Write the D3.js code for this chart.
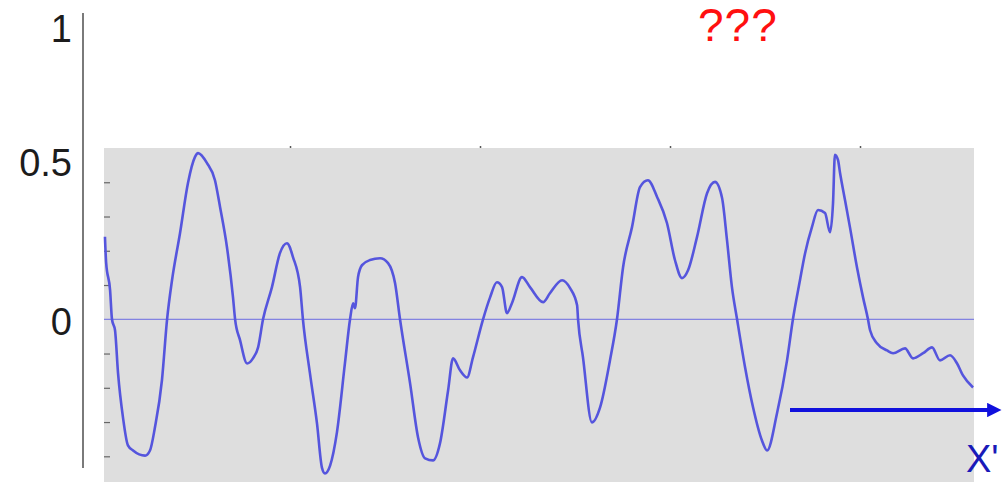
<!DOCTYPE html>
<html>
<head>
<meta charset="utf-8">
<script src="https://cdn.jsdelivr.net/npm/d3@7"></script>
<style>
  body { margin: 0; background: #fff; }
  svg { display: block; font-family: "Liberation Sans", Arial, sans-serif; }
</style>
</head>
<body>
<svg id="chart" width="1005" height="482"></svg>
<script>
// signal samples (time position, amplitude)
const sampleX = [2.6, 3.2, 5.3, 6.3, 7.9, 9.5, 12.1, 14.7, 17.4, 23.7, 26.3, 28.9, 32.6, 35.3, 37.9, 42.1, 46.3, 50.0, 51.6, 56.3,
  60.5, 63.2, 66.8, 70.0, 71.1, 73.7, 77.4, 80.5, 83.2, 85.8, 90.5, 94.7, 98.4, 101.6, 105.3, 106.8, 110.5, 114.2, 116.8, 118.4,
  121.1, 124.7, 128.9, 131.6, 133.2, 134.2, 135.8, 137.9, 142.1, 147.4, 151.6, 155.3, 157.9, 163.2, 167.4, 171.1, 175.3, 178.9, 183.2, 185.8,
  189.5, 193.2, 196.3, 201.6, 205.3, 208.9, 211.6, 214.2, 216.8, 222.1, 226.3, 233.2, 236.8, 243.2, 247.4, 251.1, 251.6, 254.2, 258.9, 263.2,
  268.4, 272.1, 275.3, 280.0, 284.2, 288.4, 293.2, 298.4, 302.6, 306.3, 309.5, 314.2, 319.5, 323.7, 327.4, 330.0, 332.6, 335.3, 339.5, 343.7,
  348.4, 351.1, 356.3, 361.6, 364.7, 368.4, 371.1, 374.7, 377.9, 381.6, 384.2, 385.8, 386.8, 388.4, 389.5, 392.1, 394.7, 398.4, 401.6, 404.2,
  405.3, 408.9, 414.2, 417.4, 423.7, 427.9, 433.2, 437.9, 442.1, 447.4, 451.1, 454.2, 459.5];
const sampleY = [0.241, 0.167, 0.085, 0.0, -0.032, -0.158, -0.287, -0.368, -0.383, -0.398, -0.383, -0.316, -0.178, 0.0, 0.114, 0.251, 0.398, 0.474, 0.485, 0.456,
  0.406, 0.327, 0.211, 0.064, 0.0, -0.061, -0.129, -0.114, -0.082, 0.0, 0.094, 0.193, 0.222, 0.181, 0.094, 0.0, -0.158, -0.304, -0.433, -0.45,
  -0.427, -0.33, -0.129, 0.0, 0.047, 0.032, 0.123, 0.158, 0.173, 0.178, 0.164, 0.105, 0.0, -0.187, -0.345, -0.406, -0.412, -0.363, -0.208, -0.114,
  -0.149, -0.17, -0.111, 0.0, 0.064, 0.108, 0.094, 0.018, 0.047, 0.123, 0.094, 0.05, 0.076, 0.114, 0.091, 0.041, 0.0, -0.111, -0.301, -0.257,
  -0.12, 0.0, 0.152, 0.269, 0.386, 0.406, 0.357, 0.281, 0.173, 0.12, 0.143, 0.24, 0.368, 0.401, 0.354, 0.231, 0.094, 0.0, -0.14, -0.257,
  -0.354, -0.383, -0.275, -0.12, 0.0, 0.114, 0.193, 0.269, 0.319, 0.31, 0.254, 0.339, 0.48, 0.465, 0.427, 0.348, 0.269, 0.152, 0.064, 0.0,
  -0.032, -0.07, -0.091, -0.099, -0.085, -0.114, -0.099, -0.082, -0.12, -0.105, -0.129, -0.164, -0.199];

const innerTicks = [-0.4, -0.3, -0.2, -0.1, 0.1, 0.2, 0.3, 0.4];
const topTicks = [100, 200, 300, 400];
const outerLabels = [0, 0.5, 1];
const titleText = "???";
const axisName = "X'";

const svg = d3.select("#chart");

const plot = { left: 104, right: 974, top: 148, bottom: 482 };

const x = d3.scaleLinear().domain([2.1, 460]).range([plot.left, plot.right]);
const y = d3.scaleLinear().domain([-0.475, 0.5]).range([plot.bottom, plot.top]);
// outer (composite) axis, not linear in the original figure
const yOuter = d3.scaleLinear().domain([0, 0.5, 1]).range([322, 163, 29]);

// grey panel
svg.append("rect")
  .attr("x", plot.left).attr("y", plot.top)
  .attr("width", plot.right - plot.left).attr("height", plot.bottom - plot.top)
  .attr("fill", "#dedede");

// zero line
svg.append("line")
  .attr("x1", plot.left).attr("x2", plot.right)
  .attr("y1", y(0)).attr("y2", y(0))
  .attr("stroke", "#6a6ae2").attr("stroke-width", 1);

// little inner ticks
const tickAxis = svg.append("g")
  .attr("transform", `translate(${plot.left},0)`)
  .call(d3.axisRight(y).tickValues(innerTicks).tickSize(6).tickFormat(""));
tickAxis.select(".domain").remove();
tickAxis.selectAll("line").attr("stroke", "#666").attr("stroke-width", 1.2);

const topAxis = svg.append("g")
  .attr("transform", `translate(0,${plot.top})`)
  .call(d3.axisTop(x).tickValues(topTicks).tickSize(2).tickFormat(""));
topAxis.select(".domain").remove();
topAxis.selectAll("line").attr("stroke", "#555").attr("stroke-width", 1.5);

// outer left axis
svg.append("line")
  .attr("x1", 83).attr("x2", 83).attr("y1", 13).attr("y2", 468)
  .attr("stroke", "#7a7a7a").attr("stroke-width", 2);

const outer = svg.append("g")
  .attr("transform", "translate(83,0)")
  .call(d3.axisLeft(yOuter).tickValues(outerLabels).tickSize(0).tickPadding(11)
    .tickFormat(d => d === 0.5 ? "0.5" : d3.format("d")(d)));
outer.select(".domain").remove();
outer.selectAll("text")
  .attr("font-size", 38)
  .attr("font-family", "'Liberation Sans', Arial, sans-serif")
  .attr("fill", "#1c1c1c");

// the signal
const data = sampleX.map((d, i) => ({ t: d, v: sampleY[i] }));
const line = d3.line()
  .x(d => x(d.t))
  .y(d => y(d.v))
  .curve(d3.curveMonotoneX);

svg.append("path")
  .datum(data)
  .attr("d", line)
  .attr("fill", "none")
  .attr("stroke", "#5555dd")
  .attr("stroke-width", 2.6)
  .attr("stroke-linejoin", "round");

// arrow
const defs = svg.append("defs");
defs.append("marker")
  .attr("id", "head")
  .attr("viewBox", "0 0 10 10")
  .attr("refX", 2).attr("refY", 5)
  .attr("markerWidth", 4).attr("markerHeight", 3.6)
  .attr("orient", "auto")
  .attr("markerUnits", "strokeWidth")
  .append("path")
  .attr("d", "M0,0 L10,5 L0,10 z")
  .attr("fill", "#1111dd");

svg.append("line")
  .attr("x1", 790).attr("x2", 990)
  .attr("y1", 410).attr("y2", 410)
  .attr("stroke", "#1111dd").attr("stroke-width", 4)
  .attr("marker-end", "url(#head)");

svg.append("text")
  .attr("x", 966).attr("y", 472)
  .attr("font-size", 38)
  .attr("fill", "#1a1ab8")
  .text(axisName);

svg.append("text")
  .attr("x", 698).attr("y", 41)
  .attr("font-size", 46)
  .attr("letter-spacing", 1)
  .attr("fill", "#ff1010")
  .text(titleText);
</script>
</body>
</html>
